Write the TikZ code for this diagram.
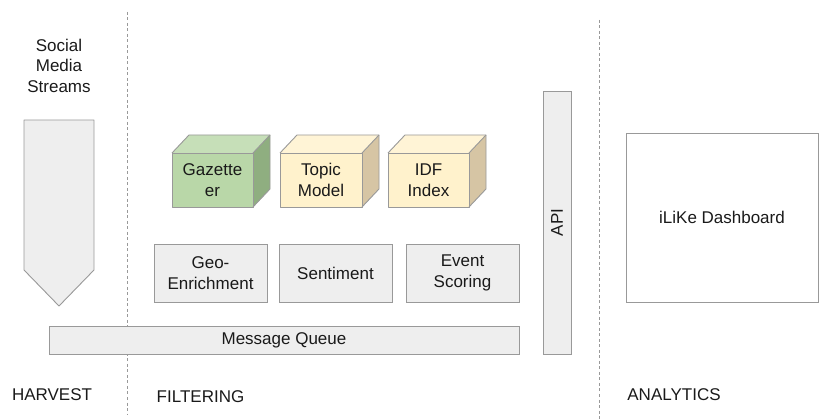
\documentclass[tikz,border=0pt]{standalone}
\usepackage{fontspec}
\setmainfont{Liberation Sans}
\definecolor{strk}{HTML}{999999}
\definecolor{boxfill}{HTML}{EEEEEE}
\definecolor{gfront}{HTML}{B9D7A8}
\definecolor{gtop}{HTML}{C6DFB8}
\definecolor{gside}{HTML}{8FAE80}
\definecolor{yfront}{HTML}{FFF2CC}
\definecolor{ytop}{HTML}{FFF4D6}
\definecolor{yside}{HTML}{D6C5A4}
\definecolor{txt}{HTML}{1A1A1A}
\begin{document}
\begin{tikzpicture}[x=1pt,y=-1pt,
  every node/.style={font=\fontsize{17}{20.5}\selectfont, text=txt, align=center},
  greybox/.style={draw=strk, fill=boxfill, line width=0.9pt},
  divider/.style={draw=strk, line width=0.8pt, dash pattern=on 3pt off 2.5pt},
  edge/.style={draw=strk, line width=0.9pt, line join=round}]
\useasboundingbox (0,0) rectangle (819,419);
% dividers
\draw[divider] (127,12) -- (127,415);
\draw[divider] (599,20) -- (599,419);
% social media streams
\node (sms) at (59,65.5) {Social\\Media\\Streams};
\draw[greybox, line join=round] (24,120) -- (94,120) -- (94,270) -- (59,306) -- (24,270) -- cycle;
% cubes
\newcommand{\mycube}[7]{%
  \fill[#5] (#1+17,#2-18) -- (#3+17,#2-18) -- (#3,#2) -- (#1,#2) -- cycle;
  \fill[#6] (#3,#2) -- (#3+17,#2-18) -- (#3+17,#4-18) -- (#3,#4) -- cycle;
  \fill[#7] (#1,#2) rectangle (#3,#4);
  \draw[edge] (#1,#2) rectangle (#3,#4);
  \draw[edge] (#1,#2) -- (#1+17,#2-18) -- (#3+17,#2-18) -- (#3+17,#4-18) -- (#3,#4);
  \draw[edge] (#3,#2) -- (#3+17,#2-18);
}
\mycube{172}{153}{253}{207}{gtop}{gside}{gfront}
\mycube{280}{153}{362}{207}{ytop}{yside}{yfront}
\mycube{388}{153}{469}{207}{ytop}{yside}{yfront}
\node (gaz) at (212.5,180) {Gazette\\er};
\node (topic) at (321,180) {Topic\\Model};
\node (idf) at (428.5,180) {IDF\\Index};
% filter boxes
\node[greybox, minimum width=113pt, minimum height=58pt, inner sep=0pt] (geo) at (210.5,273) {Geo-\\Enrichment};
\node[greybox, minimum width=113pt, minimum height=58pt, inner sep=0pt] (sent) at (335.5,273) {Sentiment};
\node[greybox, minimum width=113pt, minimum height=58pt, inner sep=0pt] (event) at (462.5,273) {Event\\Scoring};
% message queue
\node[greybox, minimum width=470pt, minimum height=28pt, inner sep=0pt] (mq) at (284,340) {Message Queue};
% API
\node[greybox, minimum width=28pt, minimum height=263pt, inner sep=0pt] (api) at (557,222.5) {};
\node[rotate=90] (apitxt) at (api.center) {API};
% dashboard
\node[draw=strk, line width=0.9pt, minimum width=192pt, minimum height=169pt, inner sep=0pt] (dash) at (722,217.5) {iLiKe Dashboard};
% section labels
\node (harvest) at (52,395) {HARVEST};
\node (filter) at (200.5,397) {FILTERING};
\node (analytics) at (674,395) {ANALYTICS};
\end{tikzpicture}
\end{document}
